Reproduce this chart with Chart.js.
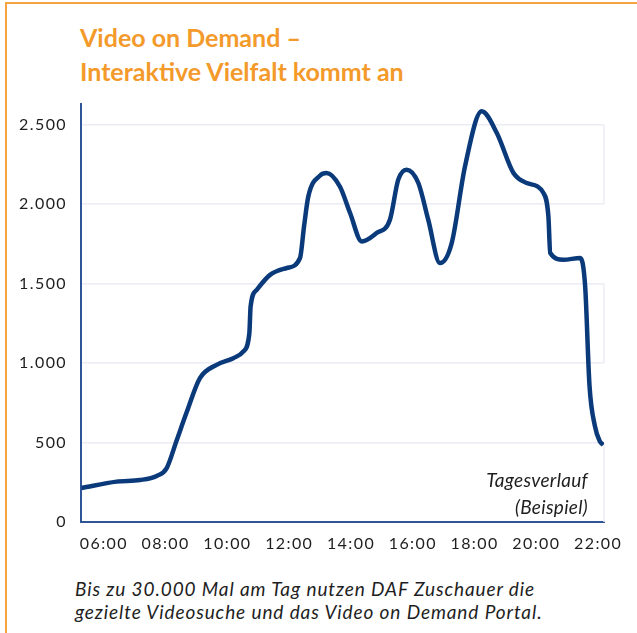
<!DOCTYPE html>
<html>
<head>
<meta charset="utf-8">
<script src="https://cdn.jsdelivr.net/npm/chart.js@4"></script>
<style>
    html, body { margin: 0; padding: 0; background: #fff; }
    body { width: 637px; height: 633px; position: relative; overflow: hidden; font-family: Lato, sans-serif; }
    .frame { position: absolute; left: 5px; top: 2px; width: 700px; height: 700px; border-top: 2px solid #f5a53f; border-left: 2px solid #f5a53f; }
    .title { position: absolute; left: 80px; top: 20px; margin: 0; font: bold 25px/34px Lato, sans-serif; color: #f39a2b; }
    .chart-box { position: absolute; left: 0; top: 0; width: 637px; height: 562px; }
    .note { position: absolute; right: 49px; top: 466px; text-align: right; font: italic 19px/27px Lato, sans-serif; letter-spacing: 0.3px; color: #1e1e1e; }
    .caption { position: absolute; left: 75px; top: 577px; margin: 0; font: italic 19px/23px Lato, sans-serif; letter-spacing: 0.9px; color: #1e1e1e; }
</style>
</head>
<body>
<div class="frame"></div>
<h1 class="title">Video on Demand –<br>Interaktive Vielfalt kommt an</h1>
<div class="chart-box"><canvas id="chartVod"></canvas></div>
<div class="note">Tagesverlauf<br>(Beispiel)</div>
<p class="caption">Bis zu 30.000 Mal am Tag nutzen DAF Zuschauer die<br>gezielte Videosuche und das Video on Demand Portal.</p>
<script>
// Uhrzeit (Stunden, dezimal) und Zugriffe
const hours = [5.28, 6.41, 7.17, 7.71, 8.03, 8.35, 8.68, 9.11, 9.65, 10.19, 10.51, 10.71, 10.75, 10.95, 11.38, 11.92, 12.35, 12.48, 12.62, 13.0, 13.21, 13.64, 13.97, 14.35, 14.83, 15.26, 15.53, 15.80, 16.18, 16.5, 16.88, 17.26, 17.69, 18.23, 18.72, 19.26, 19.69, 20.23, 20.39, 20.45, 20.88, 21.42, 21.58, 21.72, 21.9, 22.05, 22.17];
const views = [214, 254, 264, 290, 338, 510, 690, 905, 989, 1031, 1072, 1188, 1356, 1461, 1555, 1598, 1661, 1860, 2049, 2180, 2196, 2111, 1944, 1765, 1818, 1902, 2154, 2217, 2133, 1902, 1629, 1755, 2237, 2584, 2448, 2196, 2133, 2070, 1923, 1692, 1650, 1661, 1482, 860, 600, 510, 485];

const xTicks = [6, 8, 10, 12, 14, 16, 18, 20, 22];
const yTicks = [0, 500, 1000, 1500, 2000, 2500];
const xRange = [5.26, 22.19];
const yRange = [0, 2630];
// Bänder mit rechter Begrenzung
const bands = [[0, 500], [1000, 1500], [2000, 2500]];

const bandEdges = {
    id: 'bandEdges',
    beforeDraw(chart) {
        chart.ctx.letterSpacing = '1.4px';
    },
    beforeDatasetsDraw(chart) {
        const { ctx, chartArea } = chart;
        const y = chart.scales.y;
        ctx.save();
        ctx.strokeStyle = '#ececf4';
        ctx.lineWidth = 1.5;
        bands.forEach(([lo, hi]) => {
            ctx.beginPath();
            ctx.moveTo(chartArea.right, y.getPixelForValue(lo));
            ctx.lineTo(chartArea.right, y.getPixelForValue(hi));
            ctx.stroke();
        });
        ctx.restore();
    },
};

function hh(v) {
    return String(v).padStart(2, '0') + ':00';
}

new Chart(document.getElementById('chartVod'), {
    type: 'line',
    data: {
        datasets: [{
            data: hours.map((h, i) => ({ x: h, y: views[i] })),
            borderColor: '#0b3a7b',
            borderWidth: 4.5,
            pointRadius: 0,
            cubicInterpolationMode: 'monotone',
            fill: false,
        }],
    },
    options: {
        responsive: true,
        maintainAspectRatio: false,
        animation: false,
        layout: { padding: { top: 104, right: 33, left: 0, bottom: 0 } },
        plugins: { legend: { display: false }, tooltip: { enabled: false } },
        scales: {
            x: {
                type: 'linear',
                min: xRange[0],
                max: xRange[1],
                afterBuildTicks: (axis) => { axis.ticks = xTicks.map((v) => ({ value: v })); },
                afterFit: (axis) => { axis.height = 40; },
                grid: { display: false, drawTicks: false },
                border: { color: '#2e5597', width: 2 },
                ticks: {
                    padding: 12,
                    maxRotation: 0,
                    autoSkip: false,
                    color: '#1e1e1e',
                    font: { family: 'Lato', size: 16 },
                    callback: (v) => hh(v),
                },
            },
            y: {
                min: yRange[0],
                max: yRange[1],
                afterBuildTicks: (axis) => { axis.ticks = yTicks.map((v) => ({ value: v })); },
                afterFit: (axis) => { axis.width = 81; },
                grid: { color: '#ececf4', lineWidth: 1.5, drawTicks: false },
                border: { color: '#2e5597', width: 2 },
                ticks: {
                    padding: 14,
                    color: '#1e1e1e',
                    font: { family: 'Lato', size: 16 },
                    callback: (v) => v.toLocaleString('de-DE'),
                },
            },
        },
    },
    plugins: [bandEdges],
});
</script>
</body>
</html>
